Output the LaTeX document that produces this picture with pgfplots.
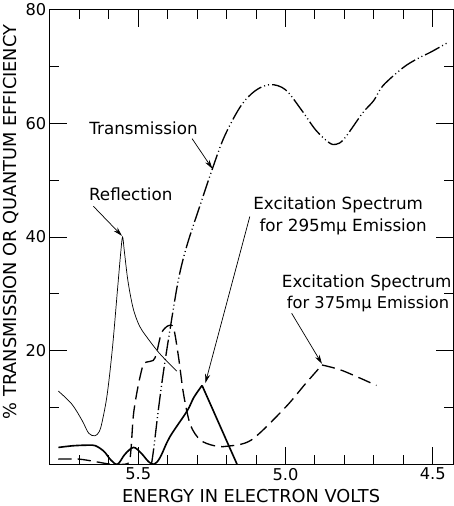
\documentclass[border=0pt]{standalone}
\usepackage{fontspec}
\setmainfont{DejaVu Sans}
\usepackage{pgfplots}
\pgfplotsset{compat=1.18}
\usetikzlibrary{arrows.meta}
\begin{document}
\begin{tikzpicture}
\begin{axis}[
 scale only axis,
 width=397pt, height=448pt,
 xmin=-5.8, xmax=-4.431, ymin=0, ymax=80,
 xtick={-5.5,-5.0,-4.5}, xticklabels={5.5,5.0,4.5},
 minor xtick={-5.7,-5.6,-5.4,-5.3,-5.2,-5.1,-4.9,-4.8,-4.7,-4.6},
 ytick={20,40,60,80}, yticklabels={20,40,60,80}, minor ytick={10,30,50,70},
 tick align=inside, major tick length=17pt, minor tick length=9pt,
 axis line style={black, line width=1pt},
 tick style={black, line width=0.9pt},
 ticklabel style={font=\fontsize{16}{18}\selectfont},
 xlabel={ENERGY IN ELECTRON VOLTS},
 ylabel={\% TRANSMISSION OR QUANTUM EFFICIENCY},
 label style={font=\fontsize{17.5}{20}\selectfont},
 xlabel style={at={(axis description cs:0.499,-0.069)}, anchor=center},
 ylabel style={at={(axis description cs:-0.096,0.533)}, anchor=center},
]
% Reflection
\addplot[black, line width=0.7pt, smooth, tension=0.55] coordinates {
(-5.771,12.9) (-5.725,10.6) (-5.69,7.7) (-5.668,5.5) (-5.647,5.05) (-5.632,5.8) (-5.622,7.6) (-5.605,12.4) (-5.587,20.7) (-5.570,30.9) (-5.559,37.4) (-5.553,40) (-5.547,37.5) (-5.536,32.7) (-5.524,29.1) (-5.513,26.7) (-5.495,24.3) (-5.472,22.5) (-5.427,19.5) (-5.369,16.4)};
% Excitation spectrum 295
\addplot[black, line width=1.6pt, smooth, tension=0.55] coordinates {
(-5.771,3.0) (-5.72,3.3) (-5.67,3.4) (-5.645,3.3) (-5.616,2.3) (-5.593,0.8) (-5.57,0.05) (-5.545,1.8) (-5.516,3.0) (-5.49,2.0) (-5.465,0.5) (-5.449,0.05) (-5.435,0.5) (-5.421,1.7) (-5.392,4.9) (-5.334,9.4) (-5.311,11.8) (-5.283,13.9)};
\addplot[black, line width=1.6pt] coordinates {(-5.283,13.9) (-5.164,0)};
% Excitation spectrum 375
\addplot[black, line width=1.3pt, dash pattern=on 13pt off 6pt, smooth, tension=0.5] coordinates {
(-5.771,0.95) (-5.702,0.95) (-5.645,0.5) (-5.593,0.05) (-5.545,0.05) (-5.53,0.5) (-5.524,2.9) (-5.516,8.8) (-5.501,13.6) (-5.484,17.4) (-5.472,18) (-5.449,18.3) (-5.438,19.5) (-5.421,23.1) (-5.398,24.4) (-5.380,24) (-5.363,18.9) (-5.346,12.4) (-5.323,7.0) (-5.289,4.3) (-5.242,3.3) (-5.20,3.2) (-5.116,4.3) (-5.001,10) (-4.932,14.2) (-4.876,17.5)};
\addplot[black, line width=1.3pt, dash pattern=on 13pt off 6pt, smooth, tension=0.5] coordinates {
(-4.876,17.5) (-4.806,16.5) (-4.691,13.9)};
% Transmission
\addplot[black, line width=1.3pt, dash pattern=on 16pt off 3pt on 1pt off 3pt on 1pt off 3pt, smooth, tension=0.55] coordinates {
(-5.455,0) (-5.447,2.9) (-5.432,9.4) (-5.415,16) (-5.392,23.7) (-5.363,32.6) (-5.334,38.6) (-5.289,45.7) (-5.248,52) (-5.207,57.7) (-5.152,63) (-5.103,65.7) (-5.052,66.8) (-5.0,65.9) (-4.945,62.3) (-4.897,58.8) (-4.852,56.6) (-4.828,56.3) (-4.80,57.3) (-4.738,61.8) (-4.70,64) (-4.669,66.6) (-4.60,69.8) (-4.55,71.4) (-4.507,72.5) (-4.445,74.3)};
% annotations
\node[anchor=east, font=\fontsize{16.5}{19}\selectfont] at (axis cs:-5.286,59.1) {Transmission};
\draw[line width=0.7pt, -{Stealth[length=9pt,width=5pt]}] (axis cs:-5.317,57.3) -- (axis cs:-5.248,52.0);
\node[anchor=west, font=\fontsize{16.5}{19}\selectfont] at (axis cs:-5.679,47.5) {Reflection};
\draw[line width=0.7pt, -{Stealth[length=9pt,width=5pt]}] (axis cs:-5.652,45.4) -- (axis cs:-5.555,40.2);
\node[anchor=west, font=\fontsize{16.5}{19}\selectfont] at (axis cs:-5.121,45.7) {Excitation Spectrum};
\node[anchor=west, font=\fontsize{16.5}{19}\selectfont] at (axis cs:-5.10,41.8) {for 295mμ Emission};
\draw[line width=0.7pt, -{Stealth[length=9pt,width=5pt]}] (axis cs:-5.121,43.6) -- (axis cs:-5.272,14.3);
\node[anchor=west, font=\fontsize{16.5}{19}\selectfont] at (axis cs:-5.024,32.0) {Excitation Spectrum};
\node[anchor=west, font=\fontsize{16}{19}\selectfont] at (axis cs:-5.007,28.2) {for 375mμ Emission};
\draw[line width=0.7pt, -{Stealth[length=9pt,width=5pt]}] (axis cs:-4.979,26.6) -- (axis cs:-4.876,17.7);
\end{axis}
\end{tikzpicture}
\end{document}
